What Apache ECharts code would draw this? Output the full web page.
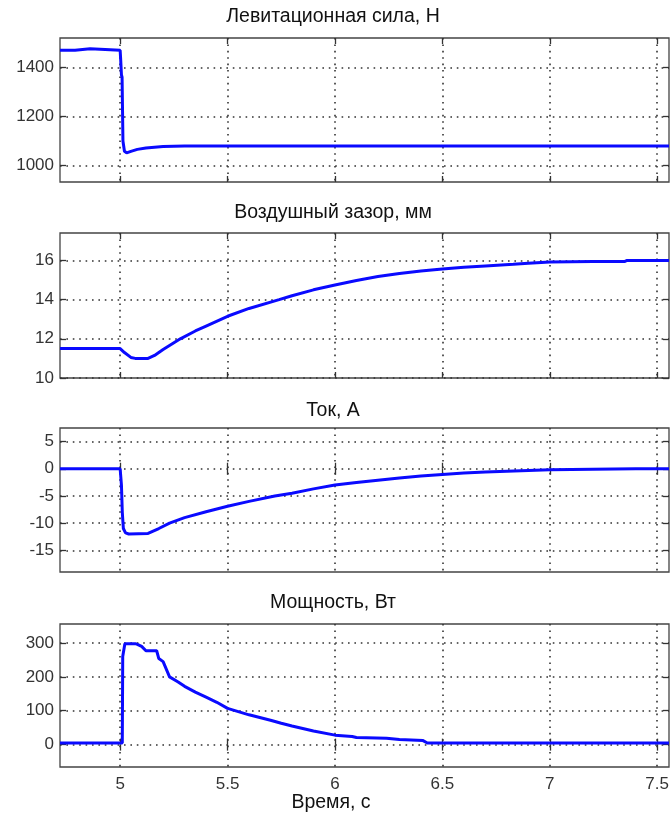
<!DOCTYPE html>
<html><head><meta charset="utf-8">
<script src="https://cdn.jsdelivr.net/npm/echarts@6/dist/echarts.min.js"></script>
<style>html,body{margin:0;padding:0;background:#fff}#c{width:672px;height:814px}</style>
</head><body><div id="c"></div>
<script>
// ---- data ----
const titles = ['Левитационная сила, Н', 'Воздушный зазор, мм', 'Ток, А', 'Мощность, Вт'];
const xLabel = 'Время, с';
const xTicks = [5, 5.5, 6, 6.5, 7, 7.5];

const forceT = [4.72, 4.79, 4.792, 4.86, 4.862, 5.0, 5.002, 5.006, 5.009, 5.013, 5.02, 5.03, 5.05, 5.08, 5.12, 5.2, 5.3, 7.555];
const forceV = [1470, 1470, 1476, 1476, 1470, 1470, 1440, 1370, 1360, 1100, 1058, 1052, 1058, 1066, 1072, 1078, 1080, 1080];
const forceTicks = [1000, 1200, 1400];

const gapT = [4.72, 5.0, 5.02, 5.05, 5.07, 5.13, 5.16, 5.2, 5.28, 5.35, 5.4, 5.5, 5.6, 5.74, 5.8, 5.9, 6.0, 6.1, 6.2, 6.3, 6.4, 6.5, 6.6, 6.7, 6.83, 6.9, 7.0, 7.2, 7.35, 7.36, 7.555];
const gapV = [11.5, 11.5, 11.3, 11.05, 11.0, 11.0, 11.15, 11.45, 12.0, 12.4, 12.65, 13.15, 13.55, 14.0, 14.2, 14.5, 14.75, 14.98, 15.18, 15.33, 15.46, 15.56, 15.65, 15.72, 15.8, 15.85, 15.92, 15.94, 15.95, 16.0, 16.0];
const gapTicks = [10, 12, 14, 16];

const currentT = [4.72, 5.0, 5.003, 5.006, 5.01, 5.015, 5.025, 5.04, 5.13, 5.18, 5.23, 5.3, 5.4, 5.5, 5.6, 5.72, 5.8, 5.9, 6.0, 6.1, 6.2, 6.3, 6.4, 6.5, 6.6, 6.7, 6.8, 6.9, 7.0, 7.2, 7.4, 7.555];
const currentV = [0, 0, -1.5, -3, -8, -11, -11.8, -12, -11.9, -11.0, -10.0, -9.0, -7.9, -6.9, -6.0, -5.0, -4.5, -3.7, -3.0, -2.55, -2.1, -1.7, -1.35, -1.05, -0.8, -0.6, -0.45, -0.3, -0.2, -0.1, 0, 0];
const currentTicks = [-15, -10, -5, 0, 5];

const powerT = [4.72, 5.0, 5.01, 5.012, 5.02, 5.022, 5.07, 5.08, 5.1, 5.12, 5.17, 5.18, 5.2, 5.23, 5.27, 5.3, 5.35, 5.4, 5.45, 5.5, 5.6, 5.7, 5.75, 5.8, 5.9, 6.0, 6.08, 6.1, 6.24, 6.3, 6.41, 6.43, 7.555];
const powerV = [5, 5, 5, 260, 265, 298, 298, 296, 290, 277, 277, 254, 245, 200, 185, 172, 155, 140, 125, 107, 88, 72, 63, 55, 40, 28, 24, 21, 19, 15, 12, 5, 5];
const powerTicks = [0, 100, 200, 300];

// ---- layout / style ----
const panels = [
  {t: forceT, v: forceV, ticks: forceTicks, min: 933, max: 1520, top: 38, bottom: 182, titleY: 17},
  {t: gapT, v: gapV, ticks: gapTicks, min: 10, max: 17.4, top: 233, bottom: 378, titleY: 213},
  {t: currentT, v: currentV, ticks: currentTicks, min: -19, max: 7.5, top: 428, bottom: 572, titleY: 411},
  {t: powerT, v: powerV, ticks: powerTicks, min: -66, max: 356, top: 624, bottom: 767, titleY: 603}
];
const XMIN = 4.72, XMAX = 7.555;
const LEFT = 60, RIGHT = 669;
const FONT = 'Liberation Sans, Arial, sans-serif';
const gridLine = {show: true, lineStyle: {color: '#333', width: 1.6, type: [1.6, 4.8]}};
const plain = v => String(v);

const grids = [], xAxes = [], yAxes = [], series = [], graphics = [];
panels.forEach((p, i) => {
  grids.push({left: LEFT, width: RIGHT - LEFT, top: p.top, height: p.bottom - p.top,
    show: true, borderColor: '#444', borderWidth: 1.3, backgroundColor: '#fff'});
  const last = i === panels.length - 1;
  const xBase = {type: 'value', gridIndex: i, min: XMIN, max: XMAX,
    axisLine: {show: false},
    axisTick: {show: true, inside: true, length: 6, customValues: xTicks, lineStyle: {color: '#333', width: 1.3}}};
  xAxes.push(Object.assign({}, xBase, {position: 'bottom',
    axisLabel: {show: last, customValues: xTicks, formatter: plain, fontFamily: FONT, fontSize: 17, color: '#333', margin: 9},
    splitLine: gridLine}));
  xAxes.push(Object.assign({}, xBase, {position: 'top', axisLabel: {show: false}, splitLine: {show: false}}));
  const yBase = {type: 'value', gridIndex: i, min: p.min, max: p.max,
    axisLine: {show: false},
    axisTick: {show: true, inside: true, length: 6, customValues: p.ticks, lineStyle: {color: '#333', width: 1.3}}};
  yAxes.push(Object.assign({}, yBase, {position: 'left',
    axisLabel: {show: true, customValues: p.ticks, formatter: plain, fontFamily: FONT, fontSize: 17, color: '#333', margin: 6},
    splitLine: gridLine}));
  yAxes.push(Object.assign({}, yBase, {position: 'right', axisLabel: {show: false}, splitLine: {show: false}}));
  series.push({type: 'line', xAxisIndex: 2 * i, yAxisIndex: 2 * i,
    data: p.t.map((x, k) => [x, p.v[k]]), showSymbol: false, symbol: 'none',
    lineStyle: {color: '#0a0aff', width: 3}, animation: false, z: 5});
  graphics.push({type: 'text', x: 333, y: p.titleY,
    style: {text: titles[i], align: 'center', verticalAlign: 'middle', font: '19.5px ' + FONT, fill: '#111'}});
});
graphics.push({type: 'text', x: 331, y: 803,
  style: {text: xLabel, align: 'center', verticalAlign: 'middle', font: '19.5px ' + FONT, fill: '#111'}});

const chart = echarts.init(document.getElementById('c'), null, {renderer: 'canvas'});
chart.setOption({animation: false, backgroundColor: '#fff', grid: grids, xAxis: xAxes, yAxis: yAxes, series, graphic: graphics});
</script></body></html>
